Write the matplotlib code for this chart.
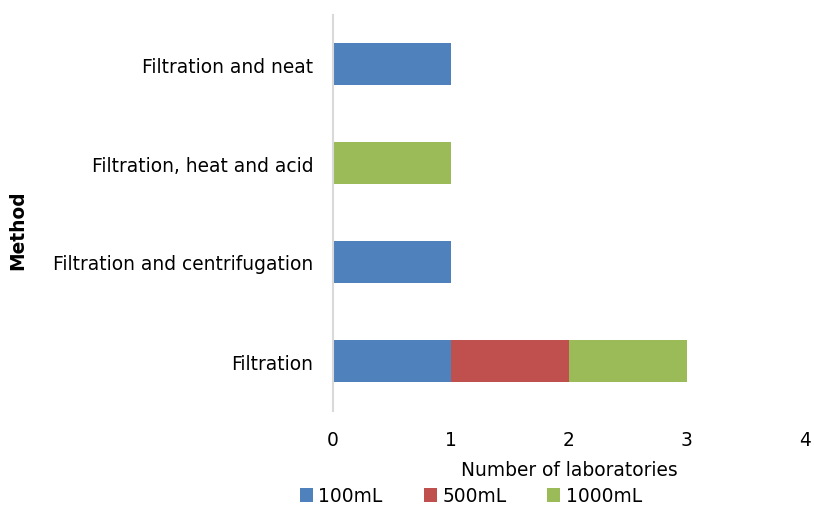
import numpy as np
import matplotlib.pyplot as plt

methods = ["Filtration", "Filtration and centrifugation",
           "Filtration, heat and acid", "Filtration and neat"]
vol_100 = [1, 1, 0, 1]
vol_500 = [1, 0, 0, 0]
vol_1000 = [1, 0, 1, 0]
series = ["100mL", "500mL", "1000mL"]
colors = ["#4F81BD", "#C0504D", "#9BBB59"]

plt.rcParams["font.family"] = "DejaVu Sans"
fs = 13.4

fig = plt.figure(figsize=(8.14, 5.1), dpi=100)
ax = fig.add_axes([333 / 814, 1 - 411.5 / 510, 472 / 814, 396 / 510])

y = np.arange(len(methods))
left = np.zeros(len(methods))
for name, vals, c in zip(series, [vol_100, vol_500, vol_1000], colors):
    ax.barh(y, vals, left=left, height=0.42, color=c, label=name)
    left += np.array(vals)

ax.set_xlim(0, 4)
ax.set_ylim(-0.5, 3.5)
ax.set_yticks(y)
ax.set_yticklabels(methods, fontsize=fs)
ax.set_xticks([0, 1, 2, 3, 4])
ax.tick_params(axis="x", labelsize=fs, length=0, pad=14)
ax.tick_params(axis="y", length=0, pad=14)

for s in ["top", "right", "bottom"]:
    ax.spines[s].set_visible(False)
ax.spines["left"].set_color("#D9D9D9")
ax.spines["left"].set_linewidth(1.5)

ax.set_xlabel("Number of laboratories", fontsize=fs, labelpad=8)
fig.text(18 / 814, 1 - 230 / 510, "Method", rotation=90, fontsize=fs,
         fontweight="bold", ha="center", va="center")

ax.legend(loc="center", bbox_to_anchor=(471 / 814, 1 - 497 / 510),
          bbox_transform=fig.transFigure, ncol=3, frameon=False,
          fontsize=fs, handlelength=0.7, handleheight=0.7,
          handletextpad=0.3, columnspacing=2.2, borderaxespad=0)

fig.savefig("out.png", dpi=100)
